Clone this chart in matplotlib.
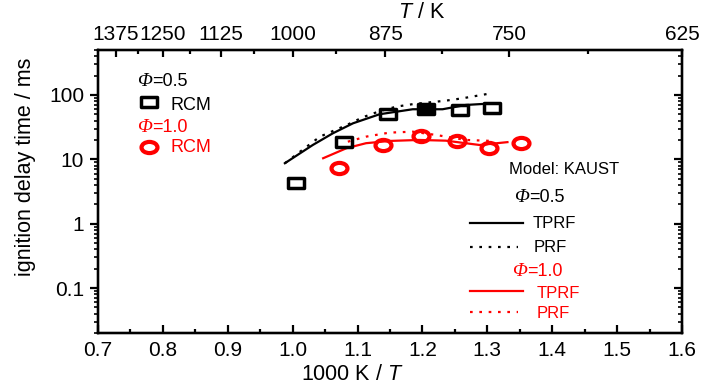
import matplotlib
matplotlib.use("Agg")
import matplotlib.pyplot as plt
from matplotlib import font_manager
from matplotlib.path import Path
from matplotlib.ticker import LogLocator, FixedLocator, NullFormatter
import numpy as np

names = {f.name for f in font_manager.fontManager.ttflist}
NARROW = "Liberation Sans Narrow" if "Liberation Sans Narrow" in names else "Liberation Sans"
REG = "Liberation Sans"

plt.rcParams["font.family"] = [NARROW, "DejaVu Sans"]
plt.rcParams["mathtext.fontset"] = "custom"
plt.rcParams["mathtext.it"] = "Liberation Sans:italic"
plt.rcParams["mathtext.sf"] = "Liberation Sans:italic"
plt.rcParams["mathtext.rm"] = "Liberation Sans"

# ---------------- data ----------------
# RCM, phi = 0.5 (black squares); the one at ~1.21 is filled
rcm05_x = [1.005, 1.079, 1.147, 1.258, 1.307]
rcm05_y = [4.35, 18.8, 50.2, 58.5, 62.2]
rcm05_fill_x = [1.206]
rcm05_fill_y = [60.6]
# RCM, phi = 1.0 (red circles)
rcm10_x = [1.071, 1.139, 1.198, 1.254, 1.302, 1.352]
rcm10_y = [7.3, 16.7, 23.1, 19.5, 15.2, 17.8]

# KAUST model, phi = 0.5
tprf05_x = [0.988, 1.031, 1.062, 1.093, 1.134, 1.185, 1.231, 1.267, 1.308]
tprf05_y = [8.7, 16.7, 25.4, 36.3, 50.2, 60.0, 60.0, 70.0, 74.0]
prf05_x = [0.988, 1.042, 1.083, 1.108, 1.134, 1.160, 1.185, 1.236, 1.262, 1.300]
prf05_y = [8.7, 22.5, 34.0, 45.0, 56.0, 66.0, 72.0, 81.6, 88.9, 103.7]
# KAUST model, phi = 1.0
tprf10_x = [1.047, 1.083, 1.113, 1.149, 1.195, 1.236, 1.288, 1.331]
tprf10_y = [10.4, 14.9, 17.8, 19.3, 20.0, 19.5, 16.7, 18.5]
prf10_x = [1.085, 1.113, 1.149, 1.185, 1.221, 1.267, 1.308]
prf10_y = [18.8, 22.5, 26.0, 26.9, 23.9, 20.0, 19.3]

x_ticks = [0.7, 0.8, 0.9, 1.0, 1.1, 1.2, 1.3, 1.4, 1.5, 1.6]
y_ticks = [0.1, 1, 10, 100]
y_tick_labels = ["0.1", "1", "10", "100"]
top_T_major = [1375, 1250, 1125, 1000, 875, 750, 625]
top_T_minor = [1312.5, 1187.5, 1062.5, 937.5, 812.5, 687.5]

W, H = 728, 390
fig = plt.figure(figsize=(W / 100, H / 100), dpi=100)
L, R, B, T = 98, 682, 333, 50
ax = fig.add_axes([L / W, 1 - B / H, (R - L) / W, (B - T) / H])

def fx(px):
    return px / W

def fy(py):
    return 1 - py / H

rect = Path([(-1, -0.62), (1, -0.62), (1, 0.62), (-1, 0.62), (-1, -0.62)],
            [Path.MOVETO, Path.LINETO, Path.LINETO, Path.LINETO, Path.CLOSEPOLY])
circ = Path.unit_circle()
ell = Path(circ.vertices * np.array([1.0, 0.7]), circ.codes)

dot = (0, (1.2, 3.0))
ax.plot(tprf05_x, tprf05_y, color="black", lw=1.6, zorder=2)
ax.plot(prf05_x, prf05_y, color="black", lw=1.6, ls=dot, zorder=2)
ax.plot(tprf10_x, tprf10_y, color="red", lw=1.6, zorder=2)
ax.plot(prf10_x, prf10_y, color="red", lw=1.6, ls=dot, zorder=2)

ax.plot(rcm05_x, rcm05_y, ls="none", marker=rect, ms=11, mfc="none", mec="black", mew=2.5, zorder=3)
ax.plot(rcm05_fill_x, rcm05_fill_y, ls="none", marker=rect, ms=11, mfc="black", mec="black", mew=2.5, zorder=3)
ax.plot(rcm10_x, rcm10_y, ls="none", marker=ell, ms=11.5, mfc="none", mec="red", mew=3.0, zorder=3)

ax.set_xlim(0.7, 1.6)
ax.set_yscale("log")
ax.set_ylim(0.02, 500)
ax.set_xticks(x_ticks)
ax.set_xticklabels([f"{v:.1f}" for v in x_ticks])
ax.xaxis.set_minor_locator(FixedLocator([v + 0.05 for v in x_ticks[:-1]]))
ax.set_yticks(y_ticks)
ax.set_yticklabels(y_tick_labels)
ax.yaxis.set_minor_locator(LogLocator(base=10, subs=np.arange(2, 10)))
ax.yaxis.set_minor_formatter(NullFormatter())

for s in ax.spines.values():
    s.set_linewidth(1.6)
ax.tick_params(axis="x", which="major", direction="in", length=6, width=1.6, labelsize=15, pad=6)
ax.tick_params(axis="x", which="minor", direction="in", length=3, width=1.6)
ax.tick_params(axis="y", which="major", direction="out", length=6, width=1.6, labelsize=15, pad=4)
ax.tick_params(axis="y", which="minor", direction="out", length=3, width=1.2)

# right axis (inward ticks, no labels)
axr = ax.twinx()
axr.set_yscale("log")
axr.set_ylim(ax.get_ylim())
axr.yaxis.set_major_locator(FixedLocator(y_ticks))
axr.yaxis.set_minor_locator(LogLocator(base=10, subs=np.arange(2, 10)))
axr.yaxis.set_major_formatter(NullFormatter())
axr.yaxis.set_minor_formatter(NullFormatter())
axr.tick_params(axis="y", which="major", direction="in", length=6, width=1.6)
axr.tick_params(axis="y", which="minor", direction="in", length=3, width=1.2)

# top axis in T / K
axt = ax.twiny()
axt.set_xlim(ax.get_xlim())
axt.set_xticks([1000.0 / t for t in top_T_major])
axt.set_xticklabels([str(t) for t in top_T_major])
axt.xaxis.set_minor_locator(FixedLocator([1000.0 / t for t in top_T_minor]))
axt.tick_params(axis="x", which="major", direction="in", length=5, width=1.6, labelsize=15, pad=4)
axt.tick_params(axis="x", which="minor", direction="in", length=3, width=1.6)
for a in (axr, axt):
    for s in a.spines.values():
        s.set_linewidth(1.6)

# axis titles
fig.text(fx(352), fy(374), r"1000 K / $\mathit{T}$", ha="center", va="center", fontsize=15.5)
fig.text(fx(422), fy(13), r"$\mathit{T}$ / K", ha="center", va="center", fontsize=15.5)
fig.text(fx(26), fy(167), "ignition delay time / ms", ha="center", va="center", rotation=90, fontsize=15.5)


def phi_label(px, py, value, color, size):
    t1 = fig.text(fx(px), fy(py), "\u03a6", ha="left", va="center", fontsize=size + 1,
                  color=color, family="Liberation Serif", style="italic")
    fig.texts.append(t1) if t1 not in fig.texts else None
    ann = ax.annotate("=" + value, xy=(1.0, 0.0), xycoords=t1, ha="left", va="bottom",
                      fontsize=size, color=color, annotation_clip=False)
    return t1, ann


# left legend
phi_label(137, 81, "0.5", "black", 13)
fig.add_artist(plt.Line2D([fx(149)], [fy(102)], ls="none", marker=rect, ms=11, mfc="none", mec="black", mew=2.5))
fig.text(fx(170), fy(106), "RCM", ha="left", va="center", fontsize=13, color="black", family=REG)
phi_label(137, 128, "1.0", "red", 13)
fig.add_artist(plt.Line2D([fx(149)], [fy(147)], ls="none", marker=ell, ms=11.5, mfc="none", mec="red", mew=3.0))
fig.text(fx(170), fy(148), "RCM", ha="left", va="center", fontsize=13, color="red", family=REG)

# right legend
fs = 12
fig.text(fx(509), fy(170), "Model: KAUST", ha="left", va="center", fontsize=fs, color="black")
phi_label(514, 198, "0.5", "black", 13)
fig.add_artist(plt.Line2D([fx(470), fx(523)], [fy(223), fy(223)], color="black", lw=1.6))
fig.text(fx(533), fy(224), "TPRF", ha="left", va="center", fontsize=fs, color="black")
fig.add_artist(plt.Line2D([fx(470), fx(518)], [fy(247), fy(247)], color="black", lw=1.6, ls=dot))
fig.text(fx(534), fy(248), "PRF", ha="left", va="center", fontsize=fs, color="black")
phi_label(512, 271, "1.0", "red", 13)
fig.add_artist(plt.Line2D([fx(470), fx(523)], [fy(291), fy(291)], color="red", lw=1.6))
fig.text(fx(537), fy(293), "TPRF", ha="left", va="center", fontsize=fs, color="red")
fig.add_artist(plt.Line2D([fx(470), fx(518)], [fy(312), fy(312)], color="red", lw=1.6, ls=dot))
fig.text(fx(537), fy(314), "PRF", ha="left", va="center", fontsize=fs, color="red")

fig.savefig("out.png", dpi=100)
